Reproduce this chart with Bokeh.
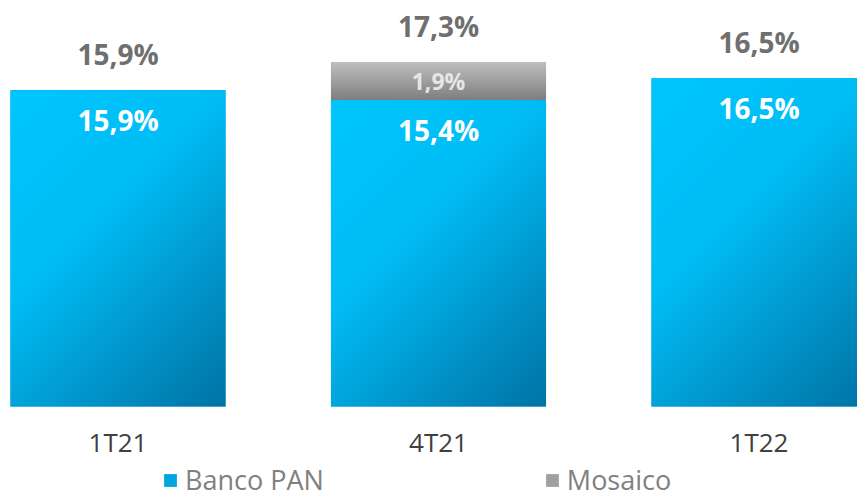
import numpy as np
from bokeh.plotting import figure
from bokeh.models import Range1d, FixedTicker, Legend, LegendItem
from bokeh.core.properties import value
from bokeh.embed import file_html
from bokeh.resources import INLINE

# ---- data ----
categories = ["1T21", "4T21", "1T22"]
banco_pan = [15.9, 15.4, 16.5]
mosaico = [0.0, 1.9, 0.0]

xs = list(range(len(categories)))
totals = [round(b + m, 1) for b, m in zip(banco_pan, mosaico)]


def fmt(v):
    return f"{v:.1f}%".replace(".", ",")


BAR_W = 0.671
PX_PER_UNIT = 19.9
BAR_PX = 215


def interp_colors(t, stops, colors):
    out = np.zeros(t.shape + (4,), dtype=np.uint8)
    for c in range(3):
        out[..., c] = np.interp(t, stops, [col[c] for col in colors]).astype(np.uint8)
    out[..., 3] = 255
    return out


def blue_img(h):
    w = BAR_PX
    xg = np.arange(w)[None, :].astype(float)
    yg = np.arange(h)[:, None].astype(float)
    t = (xg + yg) / (w - 1 + h - 1)
    rgba = interp_colors(t, [0.0, 0.4, 1.0],
                         [(0, 198, 255), (0, 189, 245), (0, 115, 166)])
    rgba = np.ascontiguousarray(rgba[::-1])
    return rgba.view(np.uint32)[:, :, 0]


def gray_img(h):
    w = BAR_PX
    yg = np.arange(h)[:, None].astype(float) * np.ones((1, w))
    t = yg / max(h - 1, 1)
    rgba = interp_colors(t, [0.0, 1.0], [(192, 192, 192), (128, 128, 128)])
    rgba = np.ascontiguousarray(rgba[::-1])
    return rgba.view(np.uint32)[:, :, 0]


p = figure(width=857, height=498,
           x_range=Range1d(-0.3666, 2.3073), y_range=Range1d(-4.623, 20.402),
           output_backend="svg", toolbar_location=None,
           min_border_left=0, min_border_right=0, min_border_top=0,
           min_border_bottom=0)
p.outline_line_color = None
p.xgrid.grid_line_color = None
p.ygrid.grid_line_color = None
p.yaxis.visible = False

bottoms2 = banco_pan
tops2 = [b + m for b, m in zip(banco_pan, mosaico)]

vb1 = p.vbar(x=xs, top=banco_pan, bottom=0, width=BAR_W,
             fill_color="#00A6DE", line_color=None)
vb2 = p.vbar(x=xs, top=tops2, bottom=bottoms2, width=BAR_W,
             fill_color="#A0A0A0", line_color=None)

# gradient overlays
for xi, b, m in zip(xs, banco_pan, mosaico):
    if b > 0:
        p.image_rgba(image=[blue_img(int(round(b * PX_PER_UNIT)))],
                     x=xi - BAR_W / 2, y=0, dw=BAR_W, dh=b)
    if m > 0:
        p.image_rgba(image=[gray_img(int(round(m * PX_PER_UNIT)))],
                     x=xi - BAR_W / 2, y=b, dw=BAR_W, dh=m)

# total labels
p.text(x=xs, y=totals, text=[fmt(v) for v in totals],
       text_align="center", text_baseline="middle", y_offset=-36,
       text_font=value("Open Sans"), text_font_style="bold",
       text_font_size="28px", text_color="#6F6F6F")
# Banco PAN labels
p.text(x=xs, y=banco_pan, text=[fmt(v) for v in banco_pan],
       text_align="center", text_baseline="middle", y_offset=30,
       text_font=value("Open Sans"), text_font_style="bold",
       text_font_size="28px", text_color="#FFFFFF")
# Mosaico labels
mx = [x for x, m in zip(xs, mosaico) if m > 0]
my = [b + m / 2 for b, m in zip(banco_pan, mosaico) if m > 0]
mt = [fmt(m) for m in mosaico if m > 0]
p.text(x=mx, y=my, text=mt, text_align="center", text_baseline="middle",
       text_font=value("Open Sans"), text_font_style="bold",
       text_font_size="23px", text_color="#E6E6E6")

# x axis drawn at y = 0 inside the frame
p.xaxis.fixed_location = 0
p.xaxis.ticker = FixedTicker(ticks=xs)
p.xaxis.major_label_overrides = {i: c for i, c in zip(xs, categories)}
p.xaxis.axis_line_color = None
p.xaxis.major_tick_line_color = None
p.xaxis.minor_tick_line_color = None
p.xaxis.major_label_standoff = 11
p.xaxis.major_label_text_font = "Open Sans"
p.xaxis.major_label_text_font_size = "26px"
p.xaxis.major_label_text_color = "#404040"

legend = Legend(items=[LegendItem(label="Banco PAN", renderers=[vb1]),
                       LegendItem(label="Mosaico", renderers=[vb2])],
                orientation="horizontal", location=(162, 0),
                glyph_width=16, glyph_height=16, label_standoff=7,
                spacing=220, padding=0, margin=0,
                label_text_font="Open Sans", label_text_font_size="27px",
                label_text_color="#808080",
                border_line_color=None, background_fill_alpha=0)
p.add_layout(legend, "center")

open("out.html", "w").write(file_html(p, INLINE))
